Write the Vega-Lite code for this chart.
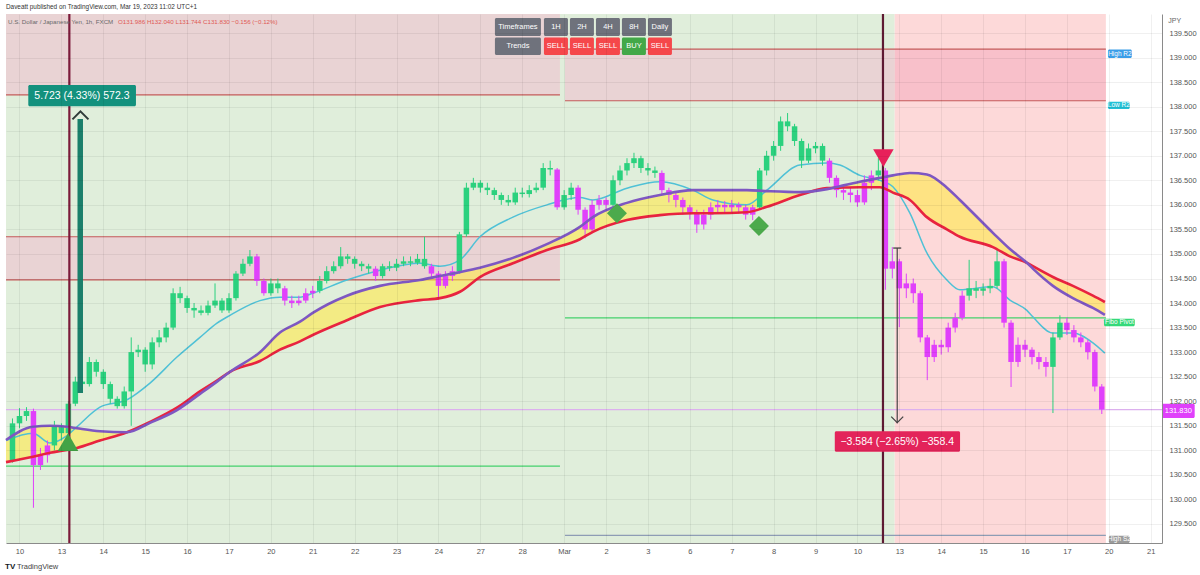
{
"$schema": "https://vega.github.io/schema/vega-lite/v6.json",
"width": 1156, "height": 529,
"autosize": {"type": "none"},
"padding": {"left": 6, "top": 14, "right": 38, "bottom": 32},
"background": "#ffffff",
"config": {"view": {"stroke": null}, "font": "Liberation Sans", "axis": {"labelOverlap": false, "labelBound": false}},
"resolve": {"scale": {"color": "independent"}},
"datasets": {
"rects": [
{"a":-0.322,"b":20.89,"lo":129.113,"hi":139.887,"k":"bgG"},
{"a":20.89,"b":25.93,"lo":129.113,"hi":139.887,"k":"bgR"},
{"a":-0.322,"b":12.9,"lo":138.24,"hi":139.887,"k":"zG"},
{"a":-0.322,"b":12.9,"lo":134.47,"hi":135.35,"k":"zG"},
{"a":13.02,"b":20.89,"lo":138.12,"hi":139.17,"k":"zG"},
{"a":20.89,"b":25.93,"lo":138.12,"hi":139.17,"k":"zR"}
],
"levels": [
{"a":-0.322,"b":12.9,"p":138.24,"k":"ln"},
{"a":-0.322,"b":12.9,"p":135.35,"k":"ln"},
{"a":-0.322,"b":12.9,"p":134.47,"k":"ln"},
{"a":-0.322,"b":12.9,"p":130.68,"k":"gl"},
{"a":13.02,"b":25.93,"p":139.17,"k":"ln"},
{"a":13.02,"b":25.93,"p":138.12,"k":"ln"},
{"a":13.02,"b":25.93,"p":133.7,"k":"gl"},
{"a":13.02,"b":25.93,"p":129.27,"k":"s2"},
{"a":-0.322,"b":27.27,"p":131.83,"k":"pl"}
],
"ma": [
{"t":-0.322,"cy":131.2,"rd":130.76,"pu":131.21},
{"t":0.322,"cy":131.35,"rd":130.87,"pu":131.48},
{"t":0.728,"cy":131.15,"rd":130.95,"pu":131.5},
{"t":1.134,"cy":131.3,"rd":131.01,"pu":131.48},
{"t":1.372,"cy":131.48,"rd":131.05,"pu":131.45},
{"t":1.921,"cy":131.88,"rd":131.2,"pu":131.39},
{"t":2.566,"cy":132.03,"rd":131.37,"pu":131.37},
{"t":3.115,"cy":132.37,"rd":131.58,"pu":131.56},
{"t":3.759,"cy":132.9,"rd":131.87,"pu":131.82},
{"t":4.308,"cy":133.3,"rd":132.2,"pu":132.15},
{"t":4.714,"cy":133.59,"rd":132.42,"pu":132.4},
{"t":5.024,"cy":133.75,"rd":132.6,"pu":132.6},
{"t":5.74,"cy":134.05,"rd":132.82,"pu":133.0},
{"t":6.217,"cy":134.12,"rd":133.05,"pu":133.4},
{"t":6.695,"cy":134.12,"rd":133.22,"pu":133.62},
{"t":7.0,"cy":134.2,"rd":133.35,"pu":133.8},
{"t":7.816,"cy":134.47,"rd":133.65,"pu":134.15},
{"t":8.604,"cy":134.67,"rd":133.92,"pu":134.35},
{"t":9.558,"cy":134.81,"rd":134.06,"pu":134.47},
{"t":10.036,"cy":134.75,"rd":134.1,"pu":134.55},
{"t":10.513,"cy":134.88,"rd":134.23,"pu":134.63},
{"t":10.99,"cy":135.35,"rd":134.53,"pu":134.72},
{"t":11.778,"cy":135.75,"rd":134.81,"pu":134.92},
{"t":12.589,"cy":136.0,"rd":135.08,"pu":135.2},
{"t":13.377,"cy":136.15,"rd":135.3,"pu":135.55},
{"t":13.687,"cy":136.1,"rd":135.45,"pu":135.75},
{"t":14.499,"cy":136.34,"rd":135.69,"pu":136.04},
{"t":15.286,"cy":136.47,"rd":135.79,"pu":136.2},
{"t":16.074,"cy":136.3,"rd":135.83,"pu":136.3},
{"t":16.551,"cy":136.1,"rd":135.83,"pu":136.3},
{"t":17.363,"cy":136.0,"rd":135.85,"pu":136.3},
{"t":17.84,"cy":136.3,"rd":135.96,"pu":136.28},
{"t":18.628,"cy":136.81,"rd":136.2,"pu":136.26},
{"t":19.272,"cy":136.85,"rd":136.34,"pu":136.32},
{"t":19.582,"cy":136.81,"rd":136.35,"pu":136.38},
{"t":20.06,"cy":136.6,"rd":136.36,"pu":136.47},
{"t":20.537,"cy":136.5,"rd":136.36,"pu":136.55},
{"t":20.847,"cy":136.37,"rd":136.25,"pu":136.6},
{"t":21.253,"cy":135.83,"rd":136.1,"pu":136.65},
{"t":21.658,"cy":135.02,"rd":135.75,"pu":136.62},
{"t":22.136,"cy":134.47,"rd":135.5,"pu":136.35},
{"t":22.446,"cy":134.27,"rd":135.35,"pu":136.1},
{"t":23.234,"cy":134.33,"rd":135.14,"pu":135.43},
{"t":23.64,"cy":134.06,"rd":134.95,"pu":135.1},
{"t":24.045,"cy":133.85,"rd":134.82,"pu":134.82},
{"t":24.188,"cy":133.72,"rd":134.75,"pu":134.7},
{"t":24.666,"cy":133.39,"rd":134.53,"pu":134.35},
{"t":25.143,"cy":133.39,"rd":134.35,"pu":134.1},
{"t":25.621,"cy":133.19,"rd":134.15,"pu":133.9},
{"t":25.907,"cy":132.98,"rd":134.02,"pu":133.76}
],
"candles": [
{"t":-0.167,"o":130.8,"h":131.65,"l":130.75,"c":131.55,"d":"u"},
{"t":0,"o":131.55,"h":131.86,"l":131.45,"c":131.7,"d":"u"},
{"t":0.167,"o":131.7,"h":131.88,"l":131.6,"c":131.8,"d":"u"},
{"t":0.333,"o":131.8,"h":131.85,"l":129.83,"c":130.7,"d":"d"},
{"t":0.5,"o":130.7,"h":131.05,"l":130.6,"c":130.9,"d":"d"},
{"t":0.667,"o":130.9,"h":131.2,"l":130.75,"c":131.1,"d":"d"},
{"t":0.833,"o":131.1,"h":131.6,"l":131.0,"c":131.5,"d":"u"},
{"t":1.0,"o":131.5,"h":131.55,"l":131.2,"c":131.35,"d":"u"},
{"t":1.167,"o":131.35,"h":132.0,"l":131.3,"c":131.95,"d":"u"},
{"t":1.333,"o":131.95,"h":132.5,"l":131.9,"c":132.4,"d":"u"},
{"t":1.5,"o":132.4,"h":132.55,"l":132.2,"c":132.35,"d":"u"},
{"t":1.667,"o":132.35,"h":132.9,"l":132.3,"c":132.8,"d":"u"},
{"t":1.833,"o":132.8,"h":132.85,"l":132.5,"c":132.6,"d":"u"},
{"t":2.0,"o":132.6,"h":132.65,"l":132.25,"c":132.35,"d":"u"},
{"t":2.167,"o":132.35,"h":132.4,"l":131.95,"c":132.05,"d":"u"},
{"t":2.333,"o":132.05,"h":132.1,"l":131.85,"c":131.9,"d":"u"},
{"t":2.5,"o":131.9,"h":132.3,"l":131.85,"c":132.2,"d":"u"},
{"t":2.667,"o":132.2,"h":133.3,"l":131.5,"c":133.0,"d":"u"},
{"t":2.833,"o":133.0,"h":133.15,"l":132.9,"c":133.05,"d":"u"},
{"t":3.0,"o":133.05,"h":133.1,"l":132.6,"c":132.75,"d":"u"},
{"t":3.167,"o":132.75,"h":133.3,"l":132.65,"c":133.2,"d":"u"},
{"t":3.333,"o":133.2,"h":133.45,"l":133.1,"c":133.3,"d":"u"},
{"t":3.5,"o":133.3,"h":133.6,"l":133.2,"c":133.5,"d":"u"},
{"t":3.667,"o":133.5,"h":134.3,"l":133.45,"c":134.2,"d":"u"},
{"t":3.833,"o":134.2,"h":134.33,"l":134.0,"c":134.1,"d":"u"},
{"t":4.0,"o":134.1,"h":134.15,"l":133.8,"c":133.9,"d":"u"},
{"t":4.167,"o":133.9,"h":134.0,"l":133.7,"c":133.85,"d":"u"},
{"t":4.333,"o":133.85,"h":133.95,"l":133.75,"c":133.8,"d":"u"},
{"t":4.5,"o":133.8,"h":134.05,"l":133.75,"c":133.95,"d":"u"},
{"t":4.667,"o":133.95,"h":134.4,"l":133.9,"c":134.05,"d":"u"},
{"t":4.833,"o":134.05,"h":134.1,"l":133.8,"c":133.85,"d":"u"},
{"t":5.0,"o":133.85,"h":134.2,"l":133.8,"c":134.1,"d":"u"},
{"t":5.167,"o":134.1,"h":134.65,"l":134.05,"c":134.6,"d":"u"},
{"t":5.333,"o":134.6,"h":134.9,"l":134.55,"c":134.8,"d":"u"},
{"t":5.5,"o":134.8,"h":135.08,"l":134.75,"c":134.95,"d":"u"},
{"t":5.667,"o":134.95,"h":135.0,"l":134.35,"c":134.45,"d":"d"},
{"t":5.833,"o":134.45,"h":134.5,"l":134.15,"c":134.2,"d":"d"},
{"t":6.0,"o":134.2,"h":134.5,"l":134.15,"c":134.4,"d":"u"},
{"t":6.167,"o":134.4,"h":134.5,"l":134.2,"c":134.3,"d":"u"},
{"t":6.333,"o":134.3,"h":134.35,"l":133.95,"c":134.05,"d":"d"},
{"t":6.5,"o":134.05,"h":134.15,"l":133.9,"c":134.0,"d":"d"},
{"t":6.667,"o":134.0,"h":134.15,"l":133.95,"c":134.05,"d":"d"},
{"t":6.833,"o":134.05,"h":134.3,"l":134.0,"c":134.2,"d":"d"},
{"t":7.0,"o":134.2,"h":134.35,"l":134.1,"c":134.25,"d":"d"},
{"t":7.167,"o":134.25,"h":134.55,"l":134.2,"c":134.45,"d":"u"},
{"t":7.333,"o":134.45,"h":134.75,"l":134.4,"c":134.65,"d":"u"},
{"t":7.5,"o":134.65,"h":134.85,"l":134.6,"c":134.75,"d":"u"},
{"t":7.667,"o":134.75,"h":135.14,"l":134.7,"c":134.95,"d":"u"},
{"t":7.833,"o":134.95,"h":135.0,"l":134.8,"c":134.9,"d":"u"},
{"t":8.0,"o":134.9,"h":134.95,"l":134.7,"c":134.8,"d":"u"},
{"t":8.167,"o":134.8,"h":134.85,"l":134.65,"c":134.75,"d":"u"},
{"t":8.333,"o":134.75,"h":134.8,"l":134.6,"c":134.7,"d":"u"},
{"t":8.5,"o":134.7,"h":134.75,"l":134.45,"c":134.55,"d":"d"},
{"t":8.667,"o":134.55,"h":134.8,"l":134.5,"c":134.75,"d":"u"},
{"t":8.833,"o":134.75,"h":134.85,"l":134.65,"c":134.72,"d":"u"},
{"t":9.0,"o":134.72,"h":134.9,"l":134.65,"c":134.8,"d":"u"},
{"t":9.167,"o":134.8,"h":134.95,"l":134.75,"c":134.85,"d":"u"},
{"t":9.333,"o":134.85,"h":134.95,"l":134.75,"c":134.82,"d":"u"},
{"t":9.5,"o":134.82,"h":135.0,"l":134.78,"c":134.9,"d":"u"},
{"t":9.667,"o":134.9,"h":135.35,"l":134.7,"c":134.75,"d":"u"},
{"t":9.833,"o":134.75,"h":134.8,"l":134.5,"c":134.6,"d":"d"},
{"t":10.0,"o":134.6,"h":134.65,"l":134.12,"c":134.35,"d":"d"},
{"t":10.167,"o":134.35,"h":134.65,"l":134.3,"c":134.55,"d":"d"},
{"t":10.333,"o":134.55,"h":134.75,"l":134.45,"c":134.65,"d":"d"},
{"t":10.5,"o":134.65,"h":135.45,"l":134.6,"c":135.4,"d":"u"},
{"t":10.667,"o":135.4,"h":136.45,"l":135.35,"c":136.35,"d":"u"},
{"t":10.833,"o":136.35,"h":136.55,"l":136.3,"c":136.45,"d":"u"},
{"t":11.0,"o":136.45,"h":136.5,"l":136.25,"c":136.35,"d":"u"},
{"t":11.167,"o":136.35,"h":136.45,"l":136.2,"c":136.3,"d":"u"},
{"t":11.333,"o":136.3,"h":136.35,"l":136.1,"c":136.2,"d":"u"},
{"t":11.5,"o":136.2,"h":136.25,"l":136.0,"c":136.1,"d":"u"},
{"t":11.667,"o":136.1,"h":136.2,"l":135.98,"c":136.05,"d":"u"},
{"t":11.833,"o":136.05,"h":136.35,"l":136.0,"c":136.25,"d":"u"},
{"t":12.0,"o":136.25,"h":136.35,"l":136.15,"c":136.22,"d":"u"},
{"t":12.167,"o":136.22,"h":136.4,"l":136.15,"c":136.3,"d":"u"},
{"t":12.333,"o":136.3,"h":136.45,"l":136.25,"c":136.35,"d":"u"},
{"t":12.5,"o":136.35,"h":136.85,"l":136.3,"c":136.75,"d":"u"},
{"t":12.667,"o":136.75,"h":136.9,"l":136.6,"c":136.72,"d":"u"},
{"t":12.833,"o":136.72,"h":136.75,"l":135.9,"c":135.95,"d":"d"},
{"t":13.0,"o":135.95,"h":136.3,"l":135.9,"c":136.2,"d":"u"},
{"t":13.167,"o":136.2,"h":136.45,"l":136.1,"c":136.35,"d":"u"},
{"t":13.333,"o":136.35,"h":136.4,"l":135.8,"c":135.9,"d":"d"},
{"t":13.5,"o":135.9,"h":135.95,"l":135.32,"c":135.5,"d":"d"},
{"t":13.667,"o":135.5,"h":136.1,"l":135.45,"c":136.0,"d":"d"},
{"t":13.833,"o":136.0,"h":136.2,"l":135.9,"c":136.1,"d":"d"},
{"t":14.0,"o":136.1,"h":136.15,"l":135.9,"c":136.0,"d":"d"},
{"t":14.167,"o":136.0,"h":136.6,"l":135.95,"c":136.5,"d":"u"},
{"t":14.333,"o":136.5,"h":136.8,"l":136.4,"c":136.7,"d":"u"},
{"t":14.5,"o":136.7,"h":136.95,"l":136.6,"c":136.85,"d":"u"},
{"t":14.667,"o":136.85,"h":137.06,"l":136.75,"c":136.95,"d":"u"},
{"t":14.833,"o":136.95,"h":137.0,"l":136.65,"c":136.75,"d":"u"},
{"t":15.0,"o":136.75,"h":136.85,"l":136.6,"c":136.7,"d":"u"},
{"t":15.167,"o":136.7,"h":136.78,"l":136.55,"c":136.65,"d":"u"},
{"t":15.333,"o":136.65,"h":136.7,"l":136.2,"c":136.3,"d":"d"},
{"t":15.5,"o":136.3,"h":136.35,"l":136.05,"c":136.2,"d":"d"},
{"t":15.667,"o":136.2,"h":136.25,"l":135.95,"c":136.1,"d":"d"},
{"t":15.833,"o":136.1,"h":136.15,"l":135.8,"c":135.95,"d":"d"},
{"t":16.0,"o":135.95,"h":136.0,"l":135.7,"c":135.85,"d":"d"},
{"t":16.167,"o":135.85,"h":135.9,"l":135.43,"c":135.6,"d":"d"},
{"t":16.333,"o":135.6,"h":135.9,"l":135.5,"c":135.8,"d":"d"},
{"t":16.5,"o":135.8,"h":136.05,"l":135.7,"c":135.95,"d":"d"},
{"t":16.667,"o":135.95,"h":136.1,"l":135.85,"c":136.0,"d":"d"},
{"t":16.833,"o":136.0,"h":136.08,"l":135.82,"c":135.95,"d":"d"},
{"t":17.0,"o":135.95,"h":136.1,"l":135.85,"c":136.0,"d":"d"},
{"t":17.167,"o":136.0,"h":136.05,"l":135.82,"c":135.95,"d":"d"},
{"t":17.333,"o":135.95,"h":136.0,"l":135.7,"c":135.8,"d":"d"},
{"t":17.5,"o":135.8,"h":136.0,"l":135.69,"c":135.95,"d":"d"},
{"t":17.667,"o":135.95,"h":136.75,"l":135.9,"c":136.7,"d":"u"},
{"t":17.833,"o":136.7,"h":137.1,"l":136.6,"c":137.0,"d":"u"},
{"t":18.0,"o":137.0,"h":137.3,"l":136.9,"c":137.2,"d":"u"},
{"t":18.167,"o":137.2,"h":137.8,"l":137.1,"c":137.7,"d":"u"},
{"t":18.333,"o":137.7,"h":137.87,"l":137.5,"c":137.6,"d":"u"},
{"t":18.5,"o":137.6,"h":137.65,"l":137.2,"c":137.3,"d":"u"},
{"t":18.667,"o":137.3,"h":137.35,"l":136.75,"c":136.9,"d":"u"},
{"t":18.833,"o":136.9,"h":137.25,"l":136.85,"c":137.15,"d":"u"},
{"t":19.0,"o":137.15,"h":137.28,"l":137.05,"c":137.2,"d":"u"},
{"t":19.167,"o":137.2,"h":137.25,"l":136.8,"c":136.9,"d":"u"},
{"t":19.333,"o":136.9,"h":136.95,"l":136.45,"c":136.55,"d":"d"},
{"t":19.5,"o":136.55,"h":136.6,"l":136.15,"c":136.3,"d":"d"},
{"t":19.667,"o":136.3,"h":136.4,"l":136.1,"c":136.25,"d":"d"},
{"t":19.833,"o":136.25,"h":136.35,"l":136.05,"c":136.2,"d":"d"},
{"t":20.0,"o":136.2,"h":136.3,"l":135.96,"c":136.05,"d":"d"},
{"t":20.167,"o":136.05,"h":136.6,"l":136.0,"c":136.45,"d":"d"},
{"t":20.333,"o":136.45,"h":136.7,"l":136.3,"c":136.6,"d":"d"},
{"t":20.5,"o":136.6,"h":136.95,"l":136.5,"c":136.7,"d":"u"},
{"t":20.667,"o":136.7,"h":136.75,"l":134.27,"c":134.7,"d":"d"},
{"t":20.833,"o":134.7,"h":135.14,"l":134.5,"c":134.85,"d":"d"},
{"t":21.0,"o":134.85,"h":134.9,"l":133.51,"c":134.3,"d":"d"},
{"t":21.167,"o":134.3,"h":134.6,"l":134.1,"c":134.4,"d":"d"},
{"t":21.333,"o":134.4,"h":134.5,"l":134.0,"c":134.2,"d":"d"},
{"t":21.5,"o":134.2,"h":134.25,"l":133.2,"c":133.3,"d":"d"},
{"t":21.667,"o":133.3,"h":133.35,"l":132.43,"c":132.9,"d":"d"},
{"t":21.833,"o":132.9,"h":133.25,"l":132.8,"c":133.15,"d":"d"},
{"t":22.0,"o":133.15,"h":133.25,"l":132.95,"c":133.1,"d":"d"},
{"t":22.167,"o":133.1,"h":133.6,"l":133.0,"c":133.5,"d":"d"},
{"t":22.333,"o":133.5,"h":133.8,"l":133.4,"c":133.7,"d":"d"},
{"t":22.5,"o":133.7,"h":134.25,"l":133.65,"c":134.15,"d":"d"},
{"t":22.667,"o":134.15,"h":134.88,"l":134.05,"c":134.3,"d":"u"},
{"t":22.833,"o":134.3,"h":134.45,"l":134.1,"c":134.25,"d":"u"},
{"t":23.0,"o":134.25,"h":134.4,"l":134.15,"c":134.3,"d":"u"},
{"t":23.167,"o":134.3,"h":134.5,"l":134.2,"c":134.35,"d":"u"},
{"t":23.333,"o":134.35,"h":135.08,"l":134.3,"c":134.85,"d":"u"},
{"t":23.5,"o":134.85,"h":134.9,"l":133.5,"c":133.6,"d":"d"},
{"t":23.667,"o":133.6,"h":133.65,"l":132.29,"c":132.8,"d":"d"},
{"t":23.833,"o":132.8,"h":133.3,"l":132.7,"c":133.15,"d":"d"},
{"t":24.0,"o":133.15,"h":133.25,"l":132.9,"c":133.05,"d":"d"},
{"t":24.167,"o":133.05,"h":133.1,"l":132.75,"c":132.9,"d":"d"},
{"t":24.333,"o":132.9,"h":133.0,"l":132.65,"c":132.8,"d":"d"},
{"t":24.5,"o":132.8,"h":132.9,"l":132.5,"c":132.7,"d":"d"},
{"t":24.667,"o":132.7,"h":133.4,"l":131.76,"c":133.3,"d":"u"},
{"t":24.833,"o":133.3,"h":133.75,"l":133.25,"c":133.6,"d":"u"},
{"t":25.0,"o":133.6,"h":133.7,"l":133.35,"c":133.45,"d":"d"},
{"t":25.167,"o":133.45,"h":133.55,"l":133.2,"c":133.3,"d":"d"},
{"t":25.333,"o":133.3,"h":133.4,"l":133.1,"c":133.2,"d":"d"},
{"t":25.5,"o":133.2,"h":133.25,"l":132.85,"c":133.0,"d":"d"},
{"t":25.667,"o":133.0,"h":133.05,"l":132.2,"c":132.3,"d":"d"},
{"t":25.833,"o":132.3,"h":132.35,"l":131.74,"c":131.83,"d":"d"}
],
"vlines": [{"t":1.19,"k":"v1"},{"t":20.61,"k":"v2"}],
"arrows": [
{"t":1.45,"p1":132.17,"p2":137.75,"k":"up"},
{"t":20.95,"p1":131.55,"p2":135.12,"k":"dn"}
],
"heads": [
{"t":1.455,"p":137.83,"k":"upHead"},
{"t":20.95,"p":131.62,"k":"dnHead"},
{"t":20.95,"p":135.12,"k":"dnTop"}
],
"markers": [
{"t":1.158,"p":131.17,"k":"buyTri"},
{"t":14.26,"p":135.83,"k":"dia"},
{"t":17.65,"p":135.57,"k":"dia"},
{"t":20.62,"p":136.95,"k":"sellTri"}
],
"boxes": [
{"a":0.21,"b":2.78,"lo":138.01,"hi":138.44,"k":"upbox"},
{"a":19.46,"b":22.45,"lo":130.97,"hi":131.39,"k":"dnbox"},
{"a":11.348,"b":12.446,"lo":139.439,"hi":139.805,"k":"tf"},
{"a":12.518,"b":13.091,"lo":139.439,"hi":139.805,"k":"tf"},
{"a":13.138,"b":13.711,"lo":139.439,"hi":139.805,"k":"tf"},
{"a":13.759,"b":14.332,"lo":139.439,"hi":139.805,"k":"tf"},
{"a":14.379,"b":14.952,"lo":139.439,"hi":139.805,"k":"tf"},
{"a":15.0,"b":15.573,"lo":139.439,"hi":139.805,"k":"tf"},
{"a":11.348,"b":12.446,"lo":139.052,"hi":139.408,"k":"tf"},
{"a":12.518,"b":13.091,"lo":139.052,"hi":139.408,"k":"sell"},
{"a":13.138,"b":13.711,"lo":139.052,"hi":139.408,"k":"sell"},
{"a":13.759,"b":14.332,"lo":139.052,"hi":139.408,"k":"sell"},
{"a":14.379,"b":14.952,"lo":139.052,"hi":139.408,"k":"buy"},
{"a":15.0,"b":15.573,"lo":139.052,"hi":139.408,"k":"sell"},
{"a":25.98,"b":26.55,"lo":138.99,"hi":139.165,"k":"hr2"},
{"a":25.98,"b":26.5,"lo":137.95,"hi":138.1,"k":"lr2"},
{"a":25.885,"b":26.62,"lo":133.53,"hi":133.68,"k":"fib"},
{"a":26.0,"b":26.5,"lo":129.113,"hi":129.26,"k":"hs2"},
{"a":27.27,"b":28.05,"lo":131.66,"hi":131.95,"k":"price"}
],
"texts": [
{"t":-0.322,"p":140.03,"s":"Daveatt published on TradingView.com, Mar 19, 2023 11:02 UTC+1","k":"hd"},
{"t":-0.274,"p":139.72,"s":"U.S. Dollar / Japanese Yen, 1h, FXCM","k":"sym"},
{"t":2.351,"p":139.72,"s":"O131.986  H132.040  L131.744  C131.830  −0.156 (−0.12%)","k":"ohlc"},
{"t":1.49,"p":138.22,"s":"5.723 (4.33%) 572.3","k":"bx"},
{"t":20.95,"p":131.18,"s":"−3.584 (−2.65%) −358.4","k":"bx"},
{"t":11.897,"p":139.622,"s":"Timeframes","k":"tb"},
{"t":12.804,"p":139.622,"s":"1H","k":"tb"},
{"t":13.425,"p":139.622,"s":"2H","k":"tb"},
{"t":14.045,"p":139.622,"s":"4H","k":"tb"},
{"t":14.666,"p":139.622,"s":"8H","k":"tb"},
{"t":15.286,"p":139.622,"s":"Daily","k":"tb"},
{"t":11.897,"p":139.23,"s":"Trends","k":"tb"},
{"t":12.804,"p":139.23,"s":"SELL","k":"tb"},
{"t":13.425,"p":139.23,"s":"SELL","k":"tb"},
{"t":14.045,"p":139.23,"s":"SELL","k":"tb"},
{"t":14.666,"p":139.23,"s":"BUY","k":"tb"},
{"t":15.286,"p":139.23,"s":"SELL","k":"tb"},
{"t":26.265,"p":139.077,"s":"High R2","k":"rl"},
{"t":26.24,"p":138.025,"s":"Low R2","k":"rl"},
{"t":26.253,"p":133.605,"s":"Fibo Pivot","k":"rl"},
{"t":26.25,"p":129.19,"s":"High S2","k":"rl"},
{"t":27.66,"p":131.805,"s":"131.830","k":"pr"},
{"t":27.42,"p":139.75,"s":"JPY","k":"ax"},
{"t":-0.06,"p":128.62,"s":"TradingView","k":"tv"},
{"t":-0.345,"p":128.62,"s":"TV","k":"tvb"}
]
},
"layer": [
{
"data": {"name": "rects"},
"mark": {"type": "rect"},
"encoding": {
"x": {"field": "a", "type": "quantitative",
 "scale": {"domain": [-0.322, 27.27], "nice": false, "zero": false, "padding": 0},
 "axis": {"values": [0,1,2,3,4,5,6,7,8,9,10,11,12,13,14,15,16,17,18,19,20,21,22,23,24,25,26,27], "tickCount": 40,
  "labelExpr": "['10','13','14','15','16','17','20','21','22','23','24','27','28','Mar','2','3','6','7','8','9','10','13','14','15','16','17','20','21'][datum.value]",
  "grid": true, "gridColor": "#000000", "gridOpacity": 0.06, "ticks": false,
  "domainColor": "#8a8a8a", "labelFontSize": 7.5, "labelColor": "#555555", "labelPadding": 4,
  "labelFont": "Liberation Sans", "title": null, "zindex": 1, "labelFlush": false, "labelOverlap": false}},
"x2": {"field": "b"},
"y": {"field": "lo", "type": "quantitative",
 "scale": {"domain": [129.113, 139.887], "nice": false, "zero": false, "padding": 0},
 "axis": {"orient": "right", "values": [129.5,130,130.5,131,131.5,132,132.5,133,133.5,134,134.5,135,135.5,136,136.5,137,137.5,138,138.5,139,139.5], "tickCount": 40,
  "format": ".3f", "grid": true, "gridColor": "#000000", "gridOpacity": 0.06, "ticks": false,
  "domainColor": "#8a8a8a", "labelFontSize": 7.5, "labelColor": "#555555", "labelPadding": 7,
  "labelAlign": "left", "labelBaseline": "middle", "labelFont": "Liberation Sans", "title": null, "zindex": 1, "labelOverlap": false}},
"y2": {"field": "hi"},
"color": {"field": "k", "type": "nominal", "legend": null,
 "scale": {"domain": ["bgG","bgR","zG","zR"], "range": ["#e0eedb","#fdd9d9","#e9d3d4","#f8c0ca"]}}
}
},
{
"data": {"name": "levels"},
"mark": {"type": "rule", "strokeWidth": 1.2},
"encoding": {
"x": {"field": "a", "type": "quantitative"},
"x2": {"field": "b"},
"y": {"field": "p", "type": "quantitative"},
"color": {"field": "k", "type": "nominal", "legend": null,
 "scale": {"domain": ["ln","gl","s2","pl"], "range": ["#c45a5a","#45d06d","#8e9db5","#dcb0ee"]}}
}
},
{
"data": {"name": "ma"},
"mark": {"type": "area", "interpolate": "monotone", "color": "#ffe94a", "opacity": 0.6},
"encoding": {
"x": {"field": "t", "type": "quantitative"},
"y": {"field": "rd", "type": "quantitative"},
"y2": {"field": "pu"}
}
},
{
"data": {"name": "ma"},
"mark": {"type": "line", "interpolate": "monotone", "color": "#4fc1d6", "strokeWidth": 1.5},
"encoding": {
"x": {"field": "t", "type": "quantitative"},
"y": {"field": "cy", "type": "quantitative"}
}
},
{
"data": {"name": "candles"},
"mark": {"type": "rule", "strokeWidth": 1},
"encoding": {
"x": {"field": "t", "type": "quantitative"},
"y": {"field": "l", "type": "quantitative"},
"y2": {"field": "h"},
"color": {"field": "d", "type": "nominal", "legend": null,
 "scale": {"domain": ["u","d"], "range": ["#2bd17e","#e040fb"]}}
}
},
{
"data": {"name": "candles"},
"mark": {"type": "bar", "width": 5.5},
"encoding": {
"x": {"field": "t", "type": "quantitative"},
"y": {"field": "o", "type": "quantitative"},
"y2": {"field": "c"},
"color": {"field": "d", "type": "nominal", "legend": null,
 "scale": {"domain": ["u","d"], "range": ["#2bd17e","#e040fb"]}}
}
},
{
"data": {"name": "ma"},
"mark": {"type": "line", "interpolate": "monotone", "color": "#e8233f", "strokeWidth": 2.6},
"encoding": {
"x": {"field": "t", "type": "quantitative"},
"y": {"field": "rd", "type": "quantitative"}
}
},
{
"data": {"name": "ma"},
"mark": {"type": "line", "interpolate": "monotone", "color": "#7e57c2", "strokeWidth": 2.6},
"encoding": {
"x": {"field": "t", "type": "quantitative"},
"y": {"field": "pu", "type": "quantitative"}
}
},
{
"data": {"name": "vlines"},
"mark": {"type": "rule", "strokeWidth": 2.2},
"encoding": {
"x": {"field": "t", "type": "quantitative"},
"color": {"field": "k", "type": "nominal", "legend": null,
 "scale": {"domain": ["v1","v2"], "range": ["#7b1a3a","#5e1a33"]}}
}
},
{
"data": {"name": "arrows"},
"transform": [{"filter": "datum.k == 'up'"}],
"mark": {"type": "rule", "strokeWidth": 5.5, "color": "#1b7f6b"},
"encoding": {
"x": {"field": "t", "type": "quantitative"},
"y": {"field": "p1", "type": "quantitative"},
"y2": {"field": "p2"}
}
},
{
"data": {"name": "arrows"},
"transform": [{"filter": "datum.k == 'dn'"}],
"mark": {"type": "rule", "strokeWidth": 1.2, "color": "#444444"},
"encoding": {
"x": {"field": "t", "type": "quantitative"},
"y": {"field": "p1", "type": "quantitative"},
"y2": {"field": "p2"}
}
},
{
"data": {"name": "heads"},
"transform": [{"filter": "datum.k == 'upHead'"}],
"mark": {"type": "point", "shape": "M-1,0.55L0,-0.45L1,0.55", "filled": false, "stroke": "#2f3a38", "strokeWidth": 2, "size": 256, "opacity": 1},
"encoding": {
"x": {"field": "t", "type": "quantitative"},
"y": {"field": "p", "type": "quantitative"}
}
},
{
"data": {"name": "heads"},
"transform": [{"filter": "datum.k == 'dnHead'"}],
"mark": {"type": "point", "shape": "M-1,-0.55L0,0.45L1,-0.55", "filled": false, "stroke": "#444444", "strokeWidth": 1.3, "size": 144, "opacity": 1},
"encoding": {
"x": {"field": "t", "type": "quantitative"},
"y": {"field": "p", "type": "quantitative"}
}
},
{
"data": {"name": "heads"},
"transform": [{"filter": "datum.k == 'dnTop'"}],
"mark": {"type": "point", "shape": "M-1,0L1,0", "filled": false, "stroke": "#444444", "strokeWidth": 1.3, "size": 64, "opacity": 1},
"encoding": {
"x": {"field": "t", "type": "quantitative"},
"y": {"field": "p", "type": "quantitative"}
}
},
{
"data": {"name": "markers"},
"transform": [{"filter": "datum.k == 'buyTri'"}],
"mark": {"type": "point", "shape": "triangle-up", "filled": true, "color": "#43a346", "size": 420, "opacity": 1},
"encoding": {
"x": {"field": "t", "type": "quantitative"},
"y": {"field": "p", "type": "quantitative"}
}
},
{
"data": {"name": "markers"},
"transform": [{"filter": "datum.k == 'dia'"}],
"mark": {"type": "point", "shape": "diamond", "filled": true, "color": "#4caa4c", "size": 400, "opacity": 1},
"encoding": {
"x": {"field": "t", "type": "quantitative"},
"y": {"field": "p", "type": "quantitative"}
}
},
{
"data": {"name": "markers"},
"transform": [{"filter": "datum.k == 'sellTri'"}],
"mark": {"type": "point", "shape": "triangle-down", "filled": true, "color": "#e8205a", "size": 420, "opacity": 1},
"encoding": {
"x": {"field": "t", "type": "quantitative"},
"y": {"field": "p", "type": "quantitative"}
}
},
{
"data": {"name": "boxes"},
"mark": {"type": "rect", "cornerRadius": 1.5},
"encoding": {
"x": {"field": "a", "type": "quantitative"},
"x2": {"field": "b"},
"y": {"field": "lo", "type": "quantitative"},
"y2": {"field": "hi"},
"color": {"field": "k", "type": "nominal", "legend": null,
 "scale": {"domain": ["upbox","dnbox","tf","sell","buy","hr2","lr2","fib","hs2","price"],
  "range": ["#13917d","#e3245a","#6f727c","#f5474b","#43a848","#3a9de8","#22c1d6","#34d979","#9b9b9b","#e040fb"]}}
}
},
{
"data": {"name": "texts"},
"transform": [{"filter": "datum.k == 'hd'"}],
"mark": {"type": "text", "align": "left", "baseline": "middle", "fontSize": 6.4, "color": "#333333"},
"encoding": {"x": {"field": "t", "type": "quantitative"}, "y": {"field": "p", "type": "quantitative"}, "text": {"field": "s"}}
},
{
"data": {"name": "texts"},
"transform": [{"filter": "datum.k == 'sym'"}],
"mark": {"type": "text", "align": "left", "baseline": "middle", "fontSize": 6.2, "color": "#6a6a6a"},
"encoding": {"x": {"field": "t", "type": "quantitative"}, "y": {"field": "p", "type": "quantitative"}, "text": {"field": "s"}}
},
{
"data": {"name": "texts"},
"transform": [{"filter": "datum.k == 'ohlc'"}],
"mark": {"type": "text", "align": "left", "baseline": "middle", "fontSize": 6.2, "color": "#e05a55"},
"encoding": {"x": {"field": "t", "type": "quantitative"}, "y": {"field": "p", "type": "quantitative"}, "text": {"field": "s"}}
},
{
"data": {"name": "texts"},
"transform": [{"filter": "datum.k == 'bx'"}],
"mark": {"type": "text", "align": "center", "baseline": "middle", "fontSize": 10.5, "color": "#ffffff"},
"encoding": {"x": {"field": "t", "type": "quantitative"}, "y": {"field": "p", "type": "quantitative"}, "text": {"field": "s"}}
},
{
"data": {"name": "texts"},
"transform": [{"filter": "datum.k == 'tb'"}],
"mark": {"type": "text", "align": "center", "baseline": "middle", "fontSize": 7.5, "color": "#ffffff"},
"encoding": {"x": {"field": "t", "type": "quantitative"}, "y": {"field": "p", "type": "quantitative"}, "text": {"field": "s"}}
},
{
"data": {"name": "texts"},
"transform": [{"filter": "datum.k == 'rl'"}],
"mark": {"type": "text", "align": "center", "baseline": "middle", "fontSize": 6.5, "color": "#ffffff"},
"encoding": {"x": {"field": "t", "type": "quantitative"}, "y": {"field": "p", "type": "quantitative"}, "text": {"field": "s"}}
},
{
"data": {"name": "texts"},
"transform": [{"filter": "datum.k == 'pr'"}],
"mark": {"type": "text", "align": "center", "baseline": "middle", "fontSize": 7.5, "color": "#ffffff"},
"encoding": {"x": {"field": "t", "type": "quantitative"}, "y": {"field": "p", "type": "quantitative"}, "text": {"field": "s"}}
},
{
"data": {"name": "texts"},
"transform": [{"filter": "datum.k == 'ax'"}],
"mark": {"type": "text", "align": "left", "baseline": "middle", "fontSize": 7, "color": "#666666"},
"encoding": {"x": {"field": "t", "type": "quantitative"}, "y": {"field": "p", "type": "quantitative"}, "text": {"field": "s"}}
},
{
"data": {"name": "texts"},
"transform": [{"filter": "datum.k == 'tv'"}],
"mark": {"type": "text", "align": "left", "baseline": "middle", "fontSize": 7.5, "color": "#444444"},
"encoding": {"x": {"field": "t", "type": "quantitative"}, "y": {"field": "p", "type": "quantitative"}, "text": {"field": "s"}}
},
{
"data": {"name": "texts"},
"transform": [{"filter": "datum.k == 'tvb'"}],
"mark": {"type": "text", "align": "left", "baseline": "middle", "fontSize": 8, "fontWeight": "bold", "color": "#131722"},
"encoding": {"x": {"field": "t", "type": "quantitative"}, "y": {"field": "p", "type": "quantitative"}, "text": {"field": "s"}}
}
]
}
